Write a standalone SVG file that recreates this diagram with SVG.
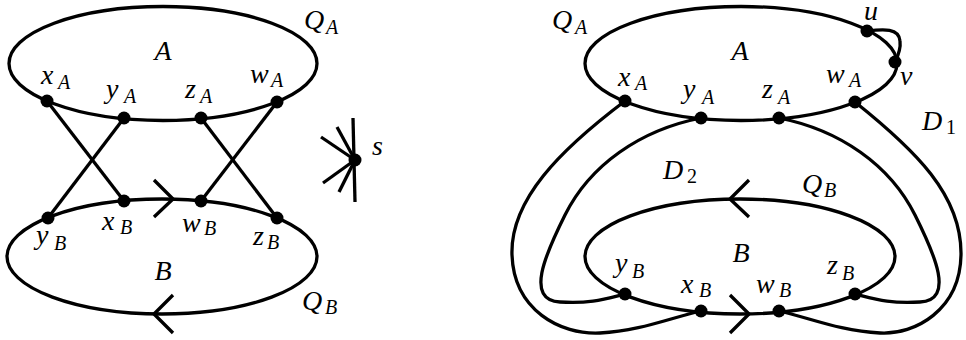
<svg xmlns="http://www.w3.org/2000/svg" width="966" height="340" viewBox="0 0 966 340">
<style>
.ln{fill:none;stroke:#000;stroke-width:3.3;stroke-linecap:butt;stroke-linejoin:round}
.dot{fill:#000}
text{font-family:"Liberation Serif","DejaVu Serif",serif;font-style:italic;font-size:28px;fill:#000}
.sb{font-size:20px}
.up{font-style:normal}
</style>
<rect width="966" height="340" fill="#fff"/>

<!-- Left diagram -->
<g id="L-QA">
<ellipse class="ln" cx="163" cy="63.5" rx="154" ry="57"/>
<text x="304" y="29">Q</text><text class="sb" x="326" y="34">A</text>
<text x="163" y="60" text-anchor="middle">A</text>
</g>
<g id="L-QB">
<ellipse class="ln" cx="162" cy="256.5" rx="155" ry="57.5"/>
<polyline class="ln" points="154,180 173,199 154,217"/>
<polyline class="ln" points="173,295 154,314 173,333"/>
<text x="163" y="280" text-anchor="middle">B</text>
<text x="302" y="310">Q</text><text class="sb" x="325" y="314">B</text>
</g>
<g id="L-edges">
<line class="ln" x1="47" y1="101" x2="124" y2="201"/>
<line class="ln" x1="124" y1="118" x2="48" y2="218"/>
<line class="ln" x1="201" y1="118" x2="277" y2="218"/>
<line class="ln" x1="277" y1="102" x2="201" y2="201"/>
</g>
<g id="L-xA"><circle class="dot" cx="47" cy="101" r="6.5"/><text x="41" y="84">x</text><text class="sb" x="58" y="89">A</text></g>
<g id="L-yA"><circle class="dot" cx="124" cy="118" r="6.5"/><text x="106" y="98">y</text><text class="sb" x="124" y="103">A</text></g>
<g id="L-zA"><circle class="dot" cx="201" cy="118" r="6.5"/><text x="185" y="98">z</text><text class="sb" x="200" y="103">A</text></g>
<g id="L-wA"><circle class="dot" cx="277" cy="102" r="6.5"/><text x="250" y="83">w</text><text class="sb" x="271" y="87">A</text></g>
<g id="L-yB"><circle class="dot" cx="48" cy="218" r="6.5"/><text x="36" y="244">y</text><text class="sb" x="54" y="250">B</text></g>
<g id="L-xB"><circle class="dot" cx="124" cy="201" r="6.5"/><text x="102" y="230">x</text><text class="sb" x="120" y="234">B</text></g>
<g id="L-wB"><circle class="dot" cx="201" cy="201" r="6.5"/><text x="182" y="232">w</text><text class="sb" x="204" y="235">B</text></g>
<g id="L-zB"><circle class="dot" cx="277" cy="218" r="6.5"/><text x="253" y="245">z</text><text class="sb" x="267" y="249">B</text></g>

<g id="s">
<line class="ln" x1="353" y1="118" x2="355" y2="202"/>
<line class="ln" x1="321" y1="137" x2="355" y2="160"/>
<line class="ln" x1="337" y1="127" x2="355" y2="160"/>
<line class="ln" x1="323" y1="183" x2="355" y2="160"/>
<line class="ln" x1="339" y1="192" x2="355" y2="160"/>
<circle class="dot" cx="355" cy="160" r="6.5"/>
<text x="372" y="155">s</text>
</g>

<!-- Right diagram -->
<g id="R-QA">
<ellipse class="ln" cx="741" cy="63.5" rx="156" ry="57"/>
<text x="552" y="29">Q</text><text class="sb" x="575" y="34">A</text>
<text x="740" y="60" text-anchor="middle">A</text>
</g>
<g id="R-QB">
<ellipse class="ln" cx="740" cy="256.5" rx="155" ry="57.5"/>
<polyline class="ln" points="749,180 730,199 749,217"/>
<polyline class="ln" points="730,295 749,314 730,333"/>
<text x="741" y="262" text-anchor="middle">B</text>
<text x="802" y="193">Q</text><text class="sb" x="824" y="197">B</text>
</g>
<g id="R-connectors">
<path class="ln" d="M867,31 C884,29 899,28 900,41 C901,49 898,56 895,62"/>
<path class="ln" d="M625,101 C560,150 510,200 512,255 C514,310 560,335 600,333 C640,331 670,318 701,311"/>
<path class="ln" d="M701,118 C640,130 590,165 565,215 C545,255 525,300 560,302 C590,304 605,299 625,294"/>
<path class="ln" d="M855,102 C915,150 962,195 961,255 C960,310 915,335 880,333 C840,331 810,318 779,311"/>
<path class="ln" d="M779,118 C840,130 890,165 915,215 C935,255 955,300 920,302 C890,304 875,299 855,294"/>
</g>
<g id="R-labels">
<text x="922" y="130">D</text><text class="sb up" x="946" y="134">1</text>
<text x="663" y="179">D</text><text class="sb up" x="687" y="183">2</text>
</g>
<g id="R-u"><circle class="dot" cx="867" cy="31" r="6.5"/><text x="864" y="20">u</text></g>
<g id="R-v"><circle class="dot" cx="895" cy="62" r="6.5"/><text x="900" y="85">v</text></g>
<g id="R-xA"><circle class="dot" cx="625" cy="101" r="6.5"/><text x="618" y="86">x</text><text class="sb" x="635" y="90">A</text></g>
<g id="R-yA"><circle class="dot" cx="701" cy="118" r="6.5"/><text x="683" y="98">y</text><text class="sb" x="702" y="104">A</text></g>
<g id="R-zA"><circle class="dot" cx="779" cy="118" r="6.5"/><text x="762" y="98">z</text><text class="sb" x="778" y="104">A</text></g>
<g id="R-wA"><circle class="dot" cx="855" cy="102" r="6.5"/><text x="826" y="83">w</text><text class="sb" x="849" y="87">A</text></g>
<g id="R-yB"><circle class="dot" cx="625" cy="294" r="6.5"/><text x="615" y="272">y</text><text class="sb" x="632" y="278">B</text></g>
<g id="R-xB"><circle class="dot" cx="701" cy="311" r="6.5"/><text x="681" y="293">x</text><text class="sb" x="699" y="297">B</text></g>
<g id="R-wB"><circle class="dot" cx="779" cy="311" r="6.5"/><text x="756" y="293">w</text><text class="sb" x="779" y="297">B</text></g>
<g id="R-zB"><circle class="dot" cx="855" cy="294" r="6.5"/><text x="827" y="274">z</text><text class="sb" x="842" y="280">B</text></g>
</svg>
